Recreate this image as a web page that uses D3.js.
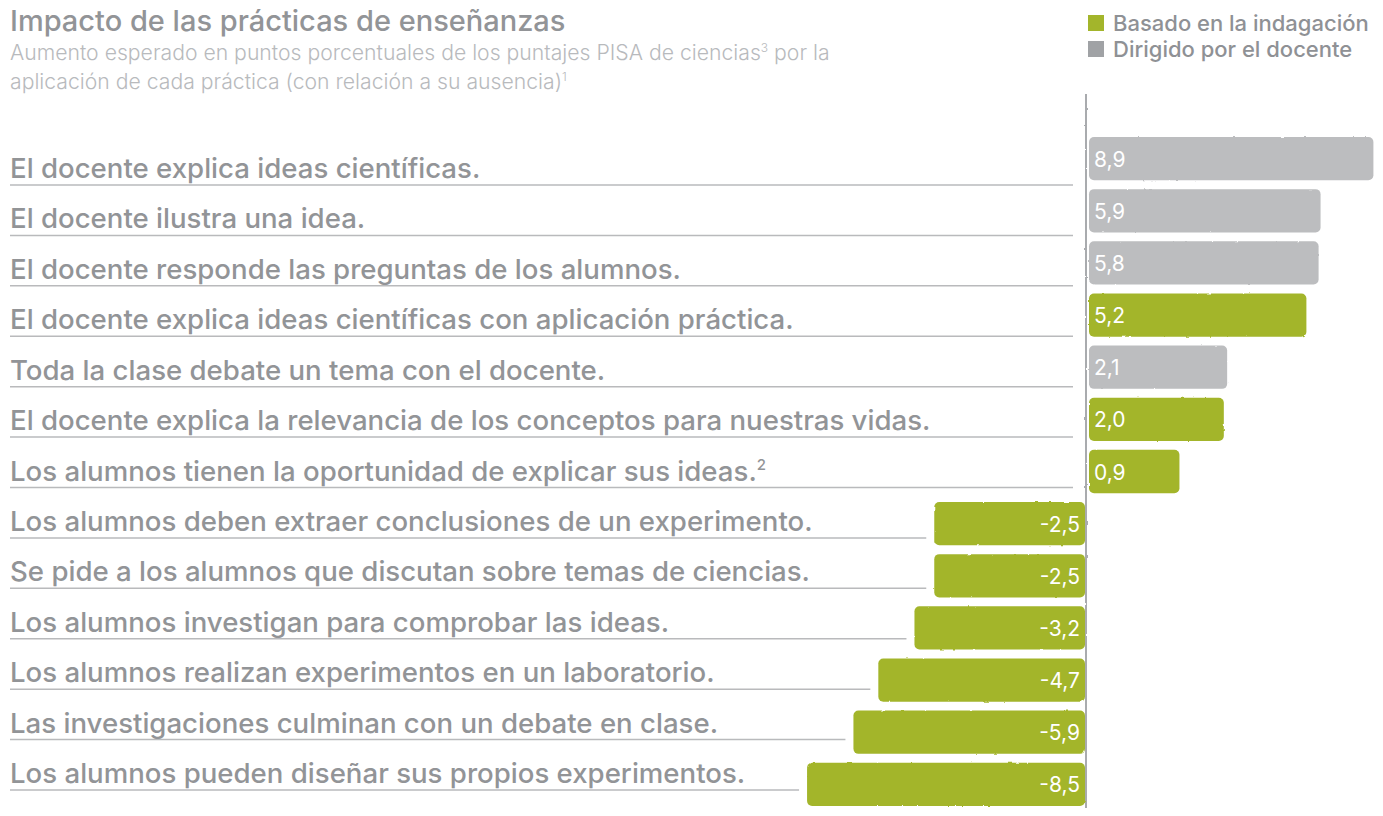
<!DOCTYPE html>
<html>
<head>
<meta charset="utf-8">
<script src="https://cdn.jsdelivr.net/npm/d3@7"></script>
<style>
  body { margin: 0; background: #fff; }
  text { font-family: Inter, "Liberation Sans", Arial, sans-serif; }
</style>
</head>
<body>
<div class="chart"></div>
<script>
var svgWidth = 1383;
var svgHeight = 816;

// data
var titleText = "Impacto de las prácticas de enseñanzas";
var subtitleLines = [
  ["Aumento esperado en puntos porcentuales de los puntajes PISA de ciencias", "3", " por la"],
  ["aplicación de cada práctica (con relación a su ausencia)", "1", ""]
];
var seriesNames = ["Basado en la indagación", "Dirigido por el docente"];
var seriesColors = ["#a3b52b", "#bcbdbf"];
var legendColors = ["#a3b52b", "#a0a2a5"];

var practices = [
  "El docente explica ideas científicas.",
  "El docente ilustra una idea.",
  "El docente responde las preguntas de los alumnos.",
  "El docente explica ideas científicas con aplicación práctica.",
  "Toda la clase debate un tema con el docente.",
  "El docente explica la relevancia de los conceptos para nuestras vidas.",
  "Los alumnos tienen la oportunidad de explicar sus ideas.",
  "Los alumnos deben extraer conclusiones de un experimento.",
  "Se pide a los alumnos que discutan sobre temas de ciencias.",
  "Los alumnos investigan para comprobar las ideas.",
  "Los alumnos realizan experimentos en un laboratorio.",
  "Las investigaciones culminan con un debate en clase.",
  "Los alumnos pueden diseñar sus propios experimentos."
];
var practiceNotes = ["", "", "", "", "", "", "2", "", "", "", "", "", ""];
var values = [8.9, 5.9, 5.8, 5.2, 2.1, 2.0, 0.9, -2.5, -2.5, -3.2, -4.7, -5.9, -8.5];
// 0 = basado en la indagación, 1 = dirigido por el docente
var seriesIndex = [1, 1, 1, 0, 1, 0, 0, 0, 0, 0, 0, 0, 0];

var rows = practices.map(function(p, i) {
  return { label: p, note: practiceNotes[i], value: values[i], s: seriesIndex[i] };
});

var svg = d3.select(".chart")
  .append("svg")
  .attr("width", svgWidth)
  .attr("height", svgHeight);

// rough hand drawn edge, in user space so thin lines get it too
var defs = svg.append("defs");
var filt = defs.append("filter")
  .attr("id", "rough")
  .attr("filterUnits", "userSpaceOnUse")
  .attr("x", 0).attr("y", 0)
  .attr("width", svgWidth).attr("height", svgHeight);
filt.append("feTurbulence")
  .attr("type", "fractalNoise")
  .attr("baseFrequency", 0.15)
  .attr("numOctaves", 2)
  .attr("seed", 4)
  .attr("result", "noise");
filt.append("feDisplacementMap")
  .attr("in", "SourceGraphic")
  .attr("in2", "noise")
  .attr("scale", 2)
  .attr("xChannelSelector", "R")
  .attr("yChannelSelector", "G");

// scales (bars in the original are drawn on a square-root like scale)
var x0 = 1087;
var xScale = d3.scalePow().exponent(0.5)
  .domain([-9, 9])
  .range([x0 - 286, x0 + 286]);

var yBar = d3.scaleBand()
  .domain(d3.range(rows.length))
  .range([137, 806])
  .paddingInner(0.17)
  .paddingOuter(0.0);

var yLine = d3.scalePoint()
  .domain(d3.range(rows.length))
  .range([185, 790]);

// title block
svg.append("text")
  .attr("x", 10)
  .attr("y", 31)
  .attr("font-size", "29px")
  .attr("font-weight", 500)
  .attr("fill", "#929497")
  .text(titleText);

subtitleLines.forEach(function(line, i) {
  var t = svg.append("text")
    .attr("x", 10)
    .attr("y", 60 + i * 29)
    .attr("font-family", "Roboto, Inter, sans-serif")
    .attr("font-size", "21.2px")
    .attr("font-weight", 300)
    .attr("fill", "#b8babd");
  t.append("tspan").text(line[0]);
  t.append("tspan").attr("dy", -8).attr("font-size", "12px").text(line[1]);
  t.append("tspan").attr("dy", 8).text(line[2]);
});

// legend
var legend = svg.append("g").attr("transform", "translate(1088, 15)");
seriesNames.forEach(function(name, i) {
  legend.append("rect")
    .attr("x", 0)
    .attr("y", i * 26)
    .attr("width", 16)
    .attr("height", 16)
    .attr("fill", legendColors[i]);
  legend.append("text")
    .attr("x", 25)
    .attr("y", i * 26 + 16)
    .attr("font-size", "22px")
    .attr("font-weight", 500)
    .attr("fill", "#8f9195")
    .text(name);
});

// underlines
svg.append("g").selectAll("line")
  .data(rows)
  .enter()
  .append("line")
  .attr("x1", 10)
  .attr("x2", function(d) { return d.value >= 0 ? x0 - 14 : xScale(d.value) - 10; })
  .attr("y1", function(d, i) { return yLine(i); })
  .attr("y2", function(d, i) { return yLine(i); })
  .attr("stroke", "#b9babc")
  .attr("stroke-width", 1.5);

// row labels
var labels = svg.append("g").selectAll("text")
  .data(rows)
  .enter()
  .append("text")
  .attr("x", 10)
  .attr("y", function(d, i) { return yLine(i) - 7; })
  .attr("font-size", "27.6px")
  .attr("font-weight", 500)
  .attr("fill", "#929497");
labels.append("tspan").text(function(d) { return d.label; });
labels.append("tspan")
  .attr("dy", -11)
  .attr("font-size", "15px")
  .text(function(d) { return d.note; });

// zero axis
svg.append("line")
  .attr("x1", x0 - 1).attr("x2", x0 - 1)
  .attr("y1", 94).attr("y2", 808)
  .attr("stroke", "#a9abae")
  .attr("stroke-width", 2)
  .attr("filter", "url(#rough)");

// bars
svg.append("g").selectAll("rect")
  .data(rows)
  .enter()
  .append("rect")
  .attr("x", function(d) { return xScale(Math.min(0, d.value)) + (d.value >= 0 ? 2 : -2); })
  .attr("width", function(d) { return Math.abs(xScale(d.value) - xScale(0)); })
  .attr("y", function(d, i) { return yBar(i); })
  .attr("height", yBar.bandwidth())
  .attr("rx", 5)
  .attr("fill", function(d) { return seriesColors[d.s]; })
  .attr("filter", "url(#rough)");

// value labels, comma decimals and a plain hyphen as in the original
var fmt = function(v) { return d3.format(".1f")(v).replace(".", ",").replace("\u2212", "-"); };
svg.append("g").selectAll("text")
  .data(rows)
  .enter()
  .append("text")
  .attr("x", function(d) { return d.value >= 0 ? x0 + 7 : x0 - 7; })
  .attr("y", function(d, i) { return yBar(i) + yBar.bandwidth() / 2 + 8; })
  .attr("text-anchor", function(d) { return d.value >= 0 ? "start" : "end"; })
  .attr("font-size", "21px")
  .attr("fill", "#fff")
  .text(function(d) { return fmt(d.value); });
</script>
</body>
</html>
